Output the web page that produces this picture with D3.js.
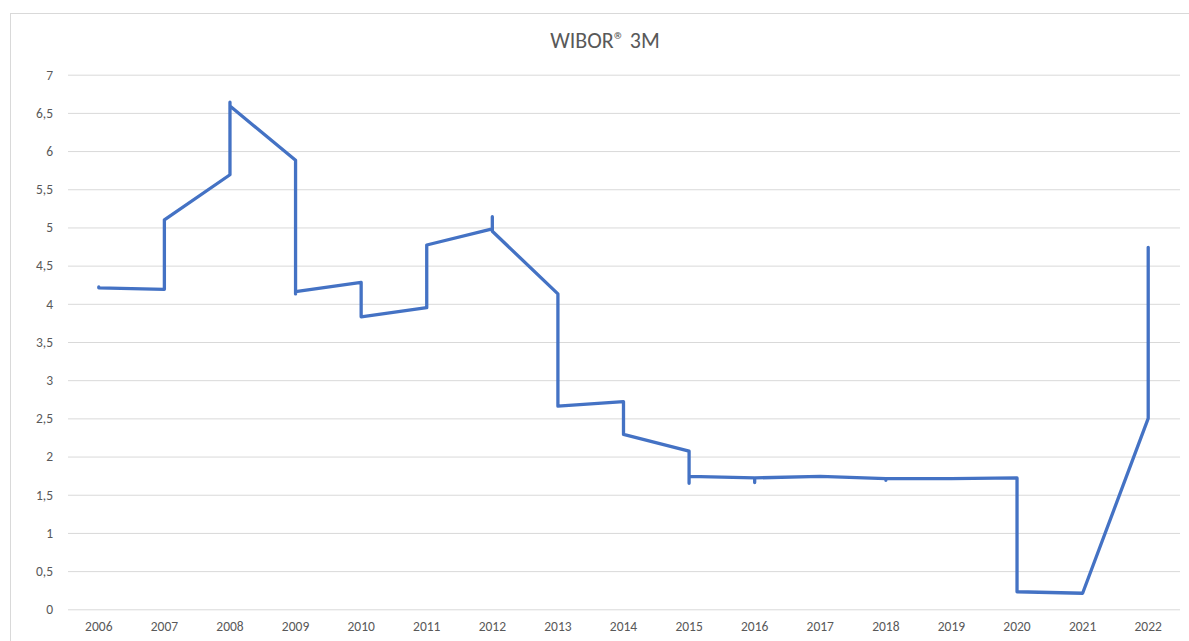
<!DOCTYPE html>
<html>
<head>
<meta charset="utf-8">
<script src="https://cdn.jsdelivr.net/npm/d3@7"></script>
<style>
  html, body { margin: 0; padding: 0; background: #fff; }
  svg { display: block; font-family: Carlito, "Open Sans", "Liberation Sans", sans-serif; }
</style>
</head>
<body>
<svg id="chart" width="1189" height="641"></svg>
<script>
// Category axis labels
const years = ['2006','2007','2008','2009','2010','2011','2012','2013','2014','2015','2016','2017','2018','2019','2020','2021','2022'];
// Path points: category of each point and its value (several points per year give the vertical jumps)
const pointYears = [
  '2006','2006',
  '2007','2007',
  '2008','2008','2008',
  '2009','2009','2009',
  '2010','2010',
  '2011','2011',
  '2012','2012','2012',
  '2013','2013',
  '2014','2014',
  '2015','2015','2015',
  '2016','2016','2016',
  '2017',
  '2018','2018','2018',
  '2019',
  '2020','2020',
  '2021',
  '2022','2022'
];
const pointValues = [
  4.22, 4.21,
  4.19, 5.10,
  5.69, 6.64, 6.59,
  5.88, 4.13, 4.16,
  4.28, 3.83,
  3.95, 4.77,
  4.98, 5.14, 4.95,
  4.13, 2.66,
  2.72, 2.29,
  2.07, 1.65, 1.74,
  1.72, 1.66, 1.72,
  1.74,
  1.71, 1.69, 1.71,
  1.71,
  1.72, 0.23,
  0.21,
  2.50, 4.74
];
const yTicks = [0,0.5,1,1.5,2,2.5,3,3.5,4,4.5,5,5.5,6,6.5,7];
const title = 'WIBOR® 3M';

const FONT = 'Carlito, "Open Sans", "Liberation Sans", sans-serif';
const svg = d3.select('#chart');

// chart area border
svg.append('rect')
  .attr('x', 10.5).attr('y', 13.5)
  .attr('width', 1300).attr('height', 800)
  .attr('fill', 'none').attr('stroke', '#d9d9d9').attr('stroke-width', 1);

const x = d3.scaleBand().domain(years).range([66, 1181]).padding(0);
const y = d3.scaleLinear().domain([0, 7]).range([609.3, 74.7]);
const fmt = v => String(v).replace('.', ',');

// gridlines + y labels
const yAxis = d3.axisLeft(y).tickValues(yTicks).tickSize(-(1180 - 68)).tickPadding(15).tickFormat(fmt);
const gy = svg.append('g').attr('transform', 'translate(68,0)').call(yAxis);
gy.select('.domain').remove();
gy.selectAll('.tick line').attr('stroke', '#d9d9d9').attr('stroke-width', 1);
gy.selectAll('.tick text').attr('fill', '#595959').style('font-size', '13.5px')
  .attr('font-family', FONT);

// x axis labels
const xAxis = d3.axisBottom(x).tickSize(0).tickPadding(12);
const gx = svg.append('g').attr('transform', 'translate(0,609.3)').call(xAxis);
gx.select('.domain').remove();
gx.selectAll('.tick text').attr('fill', '#595959').style('font-size', '13.5px')
  .attr('font-family', FONT);

// line
const pts = pointYears.map((yr, i) => [x(yr) + x.bandwidth() / 2, y(pointValues[i])]);
svg.append('path')
  .attr('d', d3.line()(pts))
  .attr('fill', 'none')
  .attr('stroke', '#4472C4')
  .attr('stroke-width', 3.3)
  .attr('stroke-linejoin', 'round')
  .attr('stroke-linecap', 'round');

// title
svg.append('text')
  .attr('x', 605).attr('y', 48)
  .attr('text-anchor', 'middle')
  .attr('fill', '#595959')
  .style('font-size', '22px')
  .text(title);
</script>
</body>
</html>
